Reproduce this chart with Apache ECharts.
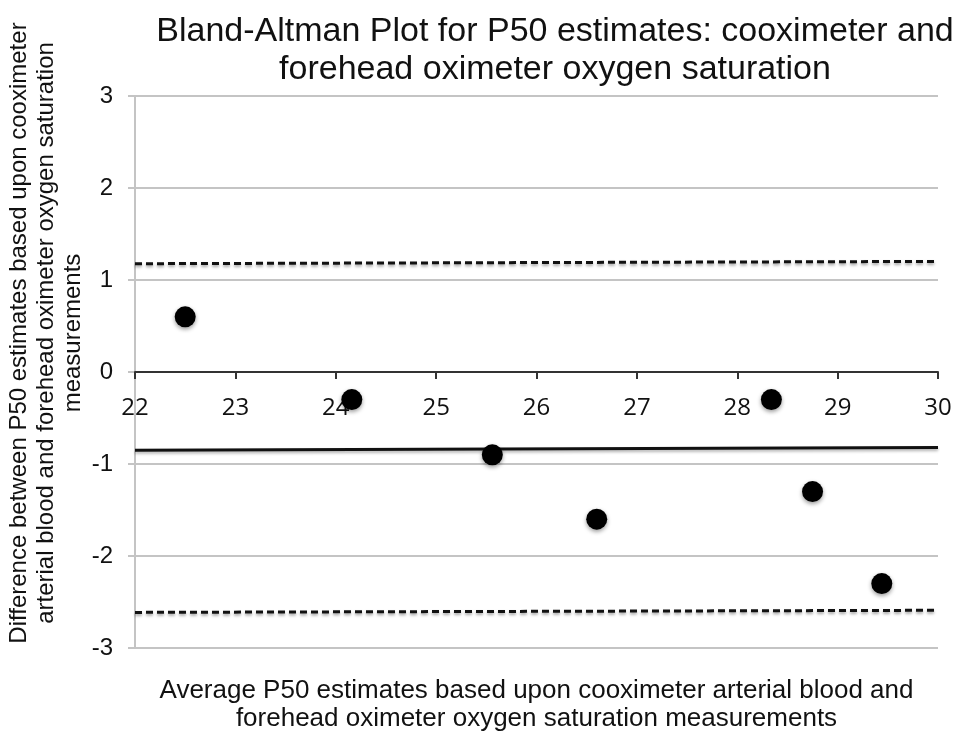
<!DOCTYPE html>
<html><head><meta charset="utf-8">
<script src="https://cdn.jsdelivr.net/npm/echarts@6/dist/echarts.min.js"></script>
<style>html,body{margin:0;padding:0;background:#fff}#c{width:957px;height:733px}</style>
</head><body><div id="c"></div>
<script>
var avgP50 = [22.5, 24.16, 25.56, 26.6, 28.34, 28.75, 29.44];
var diffP50 = [0.6, -0.3, -0.9, -1.6, -0.3, -1.3, -2.3];
var lineX = [22, 30];
var meanDiff = [-0.85, -0.82];
var upperLoA = [1.177, 1.202];
var lowerLoA = [-2.613, -2.59];
var yTicks = [-3, -2, -1, 0, 1, 2, 3];
var xTicks = [22, 23, 24, 25, 26, 27, 28, 29, 30];

function pairs(xs, ys){ return xs.map(function(x,i){return [x, ys[i]];}); }

var chart = echarts.init(document.getElementById('c'), null, {renderer:'canvas'});
var dashStyle = {color:'#111', width:3, type:[7,4], shadowColor:'rgba(0,0,0,0.35)', shadowBlur:3, shadowOffsetY:2};
chart.setOption({
  animation:false,
  backgroundColor:'#fff',
  title:{
    text:'Bland-Altman Plot for P50 estimates: cooximeter and\nforehead oximeter oxygen saturation',
    left:550, top:8, textAlign:'center',
    textStyle:{fontFamily:'Liberation Sans', fontSize:34, fontWeight:'normal', color:'#111', lineHeight:38}
  },
  grid:{left:135, right:19, top:96, bottom:85, containLabel:false, outerBoundsMode:'none'},
  xAxis:[{
    type:'value', min:22, max:30, interval:1,
    position:'bottom',
    axisLine:{show:true, onZero:true, lineStyle:{color:'#333', width:2}},
    axisTick:{show:true, inside:false, length:7, lineStyle:{color:'#333', width:2}},
    axisLabel:{show:false},
    splitLine:{show:false},
    z:4
  },{
    type:'value', min:22, max:30, interval:1,
    position:'bottom', offset:-276,
    name:'Average P50 estimates based upon cooximeter arterial blood and\nforehead oximeter oxygen saturation measurements',
    nameLocation:'middle', nameGap:305, nameMoveOverlap:false,
    nameTextStyle:{fontFamily:'Liberation Sans', fontSize:26, color:'#111', lineHeight:28},
    axisLine:{show:false, onZero:false},
    axisTick:{show:false},
    axisLabel:{fontFamily:'Open Sans', fontSize:24, color:'#111', margin:24,
      formatter:function(v){return xTicks.indexOf(v)>=0 ? String(v) : '';}},
    splitLine:{show:false}
  }],
  yAxis:{
    type:'value', min:-3, max:3, interval:1,
    name:'Difference between P50 estimates based upon cooximeter\narterial blood and forehead oximeter oxygen saturation\nmeasurements',
    nameLocation:'middle', nameGap:48, nameRotate:90, nameMoveOverlap:false,
    nameTextStyle:{fontFamily:'Liberation Sans', fontSize:24, color:'#111', lineHeight:27, padding:[0,0,0,78]},
    axisLine:{show:true, onZero:false, lineStyle:{color:'#c4c4c4', width:2}},
    axisTick:{show:true, inside:false, length:7, lineStyle:{color:'#c4c4c4', width:2}},
    axisLabel:{fontFamily:'Liberation Sans', fontSize:24, color:'#111', margin:22,
      formatter:function(v){return yTicks.indexOf(v)>=0 ? String(v) : '';}},
    splitLine:{show:true, lineStyle:{color:'#c4c4c4', width:2}}
  },
  series:[
    {type:'line', data:pairs(lineX, upperLoA), symbol:'none', lineStyle:dashStyle, z:3},
    {type:'line', data:pairs(lineX, lowerLoA), symbol:'none', lineStyle:dashStyle, z:3},
    {type:'line', data:pairs(lineX, meanDiff), symbol:'none', lineStyle:{color:'#111', width:3, shadowColor:'rgba(0,0,0,0.3)', shadowBlur:3, shadowOffsetY:2}, z:3},
    {type:'scatter', data:pairs(avgP50, diffP50), symbol:'circle', symbolSize:21,
      itemStyle:{color:'#000', opacity:1, shadowColor:'rgba(0,0,0,0.4)', shadowBlur:4, shadowOffsetY:2}, z:5}
  ]
});
</script></body></html>
